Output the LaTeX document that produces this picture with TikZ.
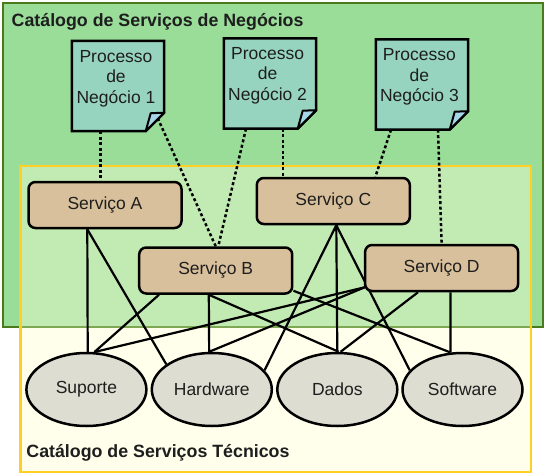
\documentclass[tikz,border=0pt]{standalone}
\usepackage{fontspec}
\setmainfont{Liberation Sans}
\usetikzlibrary{calc,shapes.geometric}
\pgfdeclarelayer{back}
\pgfdeclarelayer{conn}
\pgfsetlayers{back,conn,main}
\definecolor{grfill}{HTML}{99DD99}
\definecolor{grline}{HTML}{4A7A1A}
\definecolor{grlinelt}{HTML}{7FA855}
\definecolor{ovfill}{HTML}{C2EBB4}
\definecolor{yefill}{HTML}{FFFFEB}
\definecolor{yeline}{HTML}{FFCF24}
\definecolor{prfill}{HTML}{97D4C0}
\definecolor{flfill}{HTML}{A6D5E8}
\definecolor{svfill}{HTML}{D9C09C}
\definecolor{elfill}{HTML}{DDDDD1}
\definecolor{txt}{HTML}{1E1E1E}
\tikzset{
  proc/.style={rectangle, minimum width=92pt, minimum height=90pt, inner sep=0pt},
  procline/.style={draw=black, line width=2.5pt, fill=prfill, line join=miter},
  flapline/.style={draw=black, line width=2pt, fill=flfill, line join=round},
  proctext/.style={align=center, font=\fontsize{17.5}{20.5}\selectfont, inner sep=0pt, text=txt},
  svc/.style={draw=black, line width=2.5pt, fill=svfill, rounded corners=7pt,
    minimum width=153pt, minimum height=46pt, inner sep=0pt, text=txt, font=\fontsize{17.5}{20.5}\selectfont},
  res/.style={ellipse, draw=black, line width=2.5pt, fill=elfill,
    minimum width=120pt, minimum height=73pt, inner sep=0pt, text=txt, font=\fontsize{17.5}{20.5}\selectfont},
  dotline/.style={draw=black, line width=2.5pt, dash pattern=on 3pt off 2.5pt},
  solidline/.style={draw=black, line width=2.2pt},
  ttl/.style={font=\bfseries\fontsize{17.8}{20}\selectfont, inner sep=0pt, anchor=base west, text=txt}
}
\newcommand\drawnote[1]{%
  \draw[procline] (#1.north west) -- (#1.north east) -- ($(#1.south east)+(0,-18.5)$)
    -- ($(#1.south east)+(-18.5,0)$) -- (#1.south west) -- cycle;
  \draw[flapline] ($(#1.south east)+(0,-18.5)$) -- ($(#1.south east)+(-18.5,0)$)
    -- ($(#1.south east)+(-13.5,-18)$) -- cycle;
}
\begin{document}
\begin{tikzpicture}[x=1pt,y=-1pt]
\useasboundingbox (0,0) rectangle (546,476);
\begin{pgfonlayer}{back}
  \fill[grfill] (3,3) rectangle (543,327);
  \fill[yefill] (20.3,166) rectangle (531,472);
  \fill[ovfill] (20.3,166) rectangle (531,327);
  \draw[grline, line width=2.5pt] (20.3,327) -- (3,327) -- (3,3) -- (543,3) -- (543,327) -- (531,327);
  \draw[grlinelt, line width=2.5pt] (20.3,327) -- (531,327);
  \draw[yeline, line width=2.8pt] (20.3,166) rectangle (531,472);
\end{pgfonlayer}

\node[ttl] (t1) at (11.5,26.7) {Catálogo de Serviços de Negócios};
\node[ttl] (t2) at (26.2,457.3) {Catálogo de Serviços Técnicos};

% business processes
\node[proc] (p1) at (118,86) {};
\node[proc] (p2) at (270,83.5) {};
\node[proc] (p3) at (422,84.5) {};
\drawnote{p1}
\drawnote{p2}
\drawnote{p3}
\node[proctext] (p1t) at ($(p1.center)+(-2,-7.5)$) {Processo\\de\\Negócio 1};
\node[proctext] (p2t) at ($(p2.center)+(-2.4,-8)$) {Processo\\de\\Negócio 2};
\node[proctext] (p3t) at ($(p3.center)+(-2.6,-7.5)$) {Processo\\de\\Negócio 3};

% services
\node[svc] (a) at (105,205) {Serviço A};
\node[svc] (b) at (215.7,270.5) {Serviço B};
\node[svc] (c) at (333.3,201) {Serviço C};
\node[svc] (d) at (441.6,268) {Serviço D};

% technical resources
\node[res] (sup) at (86.4,389.5) {Suporte};
\node[res] (hw) at (211.8,389.5) {Hardware};
\node[res] (dad) at (337.3,389.5) {Dados};
\node[res] (sw) at (462.5,389.5) {Software};

\begin{pgfonlayer}{conn}
  % dotted links
  \draw[dotline] ([xshift=-17.4pt]p1.south) -- ([xshift=-4.4pt]a.north);
  \draw[dotline] ($(p1.south east)+(-6.5,-13)$) -- (b.north);
  \draw[dotline] ([xshift=-24pt]p2.south) -- ([xshift=2.6pt]b.north);
  \draw[dotline] ([xshift=13pt]p2.south) -- ([xshift=-50.3pt]c.north);
  \draw[dotline] ([xshift=-31pt]p3.south) -- ([xshift=42.1pt]c.north);
  \draw[dotline] ([xshift=16pt]p3.south) -- (d.north);
  % solid links
  \draw[solidline] ([xshift=-17.7pt]a.south) -- (sup.88);
  \draw[solidline] ([xshift=-17.7pt]a.south) -- (hw.151);
  \draw[solidline] ([xshift=-56.7pt]b.south) -- (sup.78);
  \draw[solidline] ([xshift=-6.9pt]b.south) -- (hw.94);
  \draw[solidline] ([xshift=-6.9pt]b.south) -- (dad.88);
  \draw[solidline] ($(b.south east)+(0,-4)$) -- (sw.108);
  \draw[solidline] ([xshift=3pt]c.south) -- (hw.20);
  \draw[solidline] ([xshift=3pt]c.south) -- (dad.north);
  \draw[solidline] ([xshift=3pt]c.south) -- (sw.160);
  \draw[solidline] ($(d.south west)+(1,-5)$) -- (sup.78);
  \draw[solidline] ($(d.south west)+(1,-5)$) -- (hw.94);
  \draw[solidline] ([xshift=-23.6pt]d.south) -- (dad.85);
  \draw[solidline] ([xshift=8.9pt]d.south) -- (sw.108);
\end{pgfonlayer}
\end{tikzpicture}
\end{document}
